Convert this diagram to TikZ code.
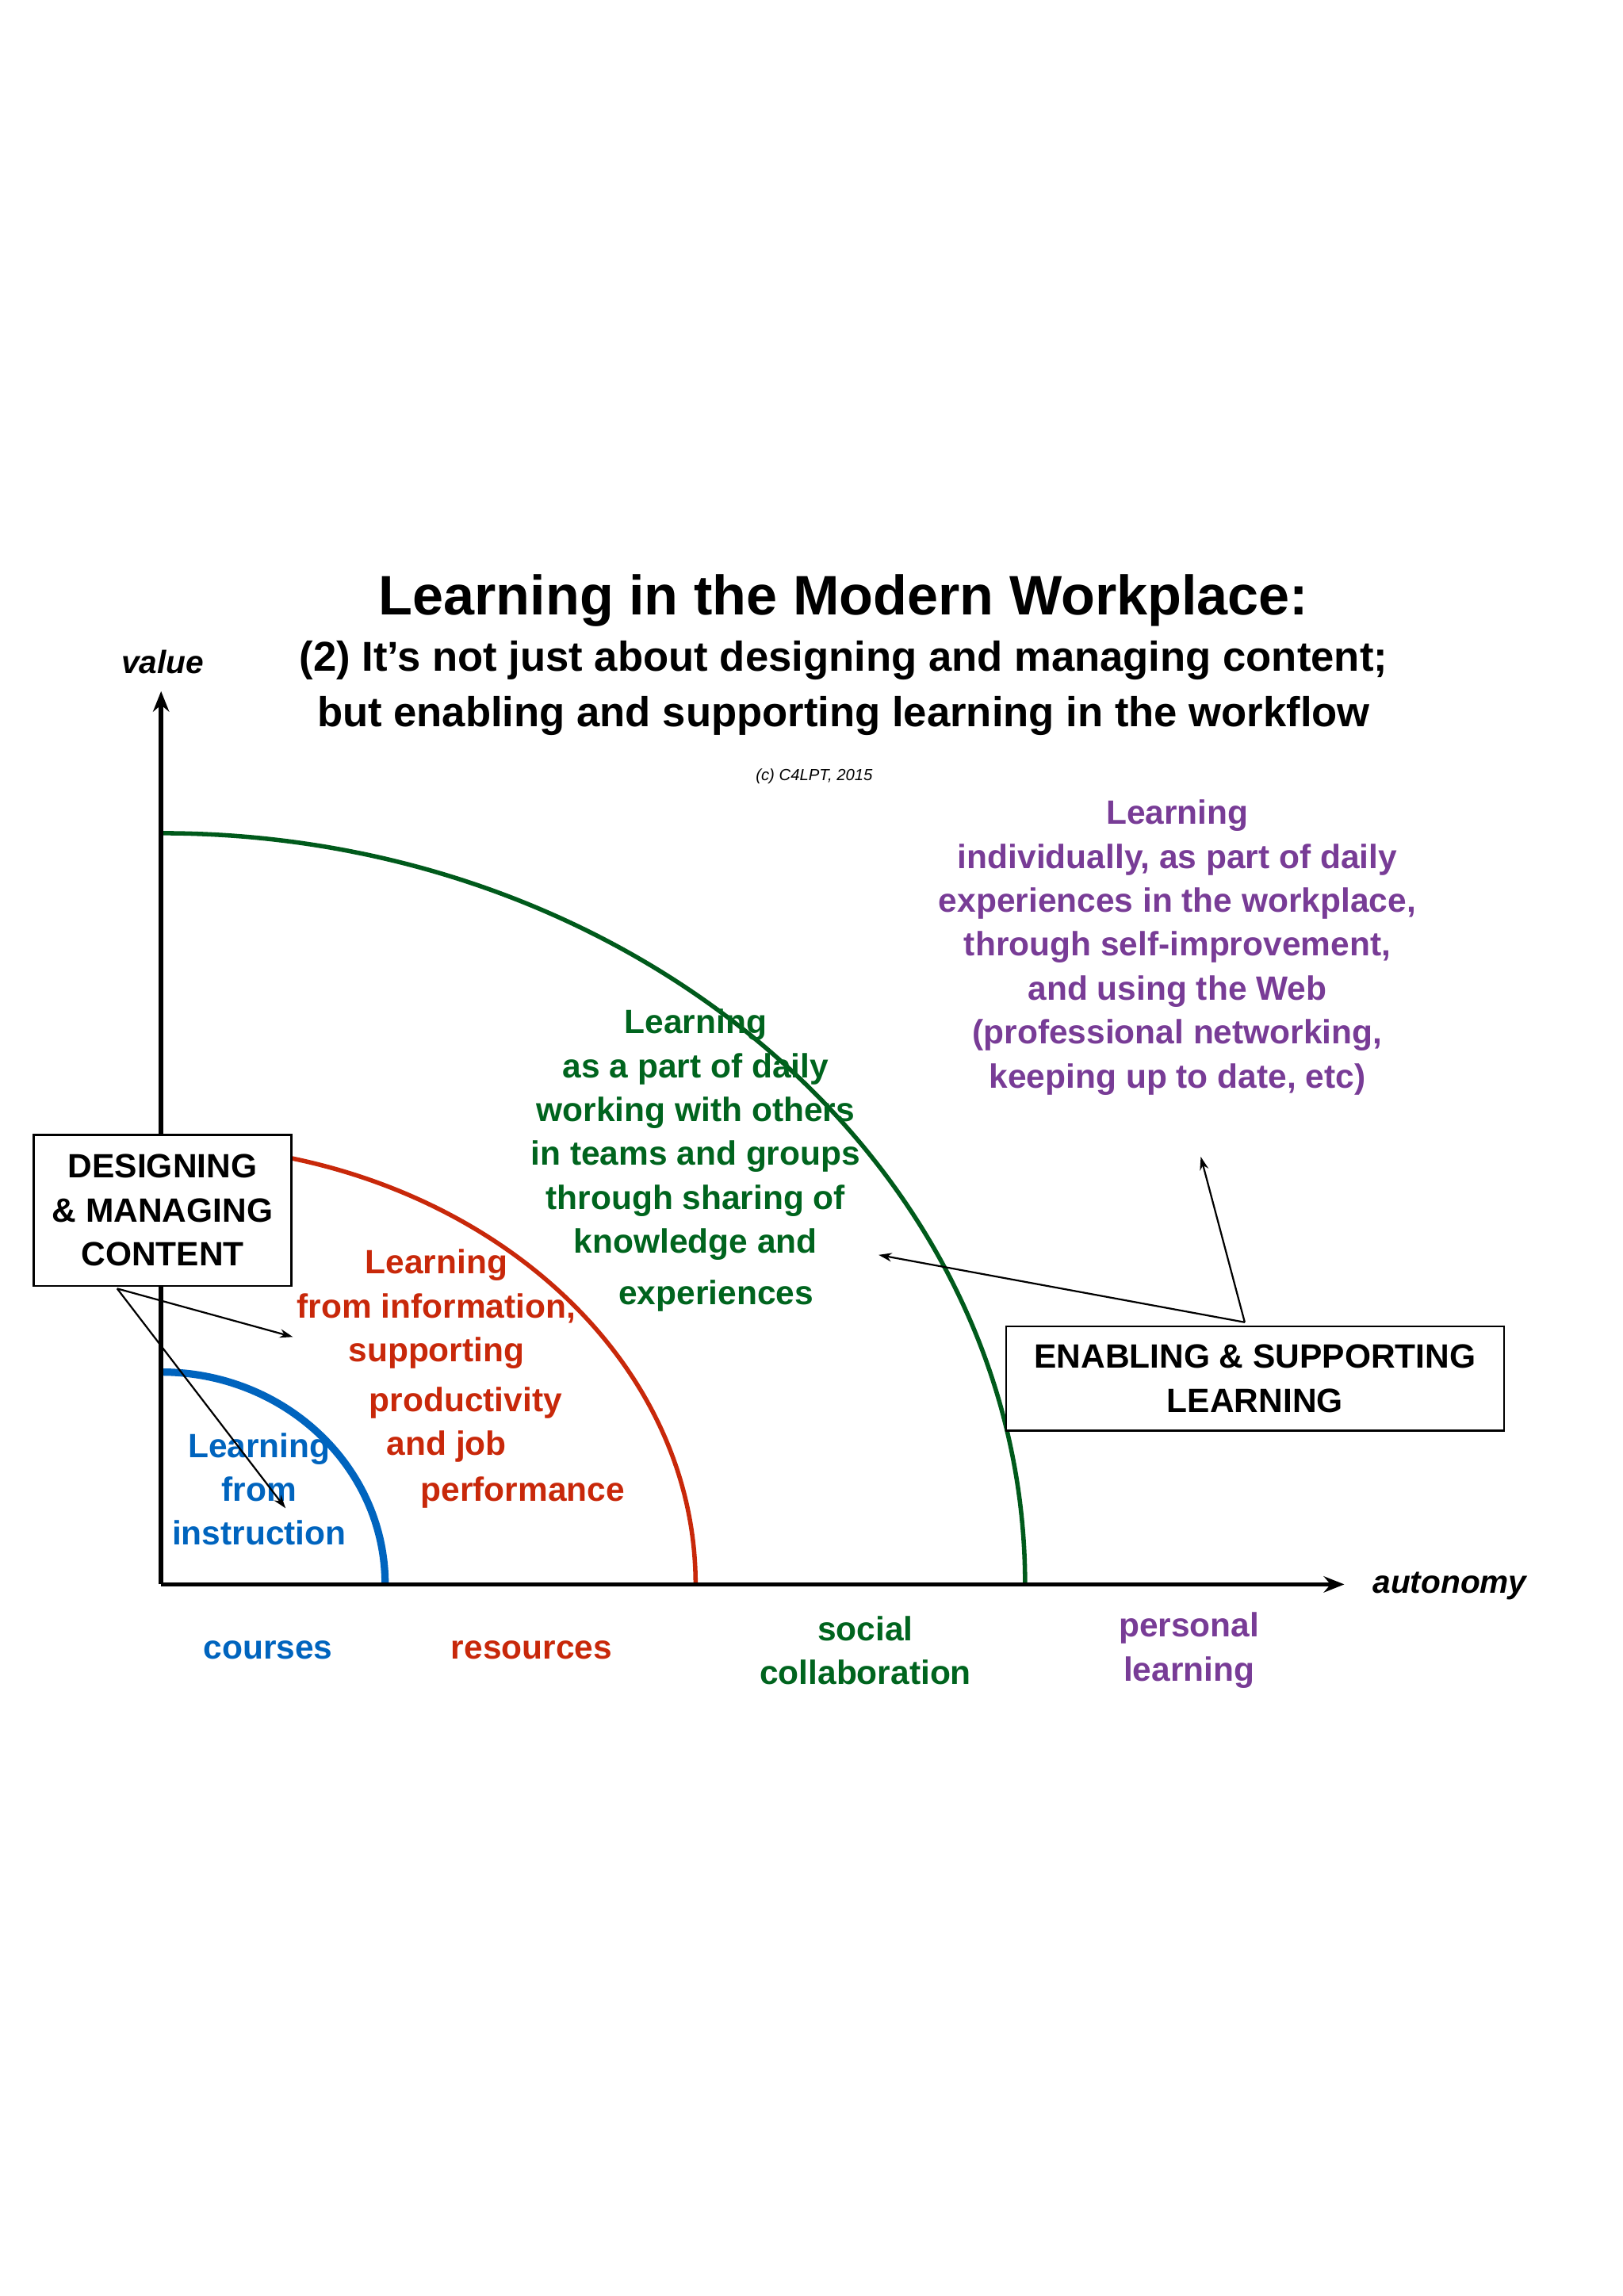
\documentclass[tikz,border=0pt]{standalone}
\usepackage{fontspec}
\setmainfont{Liberation Sans}
\usetikzlibrary{arrows.meta}
\definecolor{cblue}{RGB}{0,100,190}
\definecolor{cred}{RGB}{200,40,10}
\definecolor{cgreen}{RGB}{0,100,30}
\definecolor{cpurple}{RGB}{120,60,150}
\begin{document}
\begin{tikzpicture}[x=1pt,y=-1pt,
  lbl/.style={font=\fontsize{23}{30}\selectfont\bfseries,align=center,inner sep=0pt},
  boxn/.style={draw,line width=1.2pt,fill=white,font=\fontsize{23}{30}\selectfont\bfseries,align=center,inner sep=0pt},
  arr/.style={-{Stealth[length=9pt,width=6pt]},line width=1.2pt}]
\useasboundingbox (0,0) rectangle (1108,1568);
\node[font=\fontsize{38}{44}\selectfont\bfseries] (t1) at (576,410) {Learning in the Modern Workplace:};
\node[font=\fontsize{28.5}{37.5}\selectfont\bfseries,align=center] (t2) at (576,470) {(2) It’s not just about designing and managing content;\\but enabling and supporting learning in the workflow};
\node[font=\fontsize{11}{13}\selectfont\itshape] (cp) at (556,530) {(c) C4LPT, 2015};
\node[font=\fontsize{22}{26}\selectfont\bfseries\itshape] (val) at (111,452) {value};
\node[font=\fontsize{22}{26}\selectfont\bfseries\itshape] (aut) at (990,1083) {autonomy};
\coordinate (O) at (110,1082);
\coordinate (Y) at (110,472);
\coordinate (X) at (918,1082);
\draw[line width=3pt,color=cgreen!90!black] (700,1082) arc[start angle=0,end angle=-90,x radius=590,y radius=513];
\draw[line width=3pt,color=cred] (475,1082) arc[start angle=0,end angle=-90,x radius=365,y radius=300];
\draw[line width=5pt,color=cblue] (263,1082) arc[start angle=0,end angle=-90,x radius=153,y radius=145];
\draw[line width=3pt,-{Stealth[length=14pt,width=11pt]}] (O) -- (Y);
\draw[line width=3pt,-{Stealth[length=14pt,width=11pt]}] (O) -- (X);
\node[boxn,minimum width=176pt,minimum height=103pt] (dm) at (111,826.5) {DESIGNING\\\& MANAGING\\CONTENT};
\node[boxn,minimum width=340pt,minimum height=71pt] (es) at (857,941.5) {ENABLING \& SUPPORTING\\LEARNING};
\begin{scope}[lbl,color=cblue]
\node[lbl,text=cblue] (b1) at (177,1017) {Learning\\from\\instruction};
\end{scope}
\node[lbl,text=cred,anchor=north,align=center] (r1) at (298,853) {Learning\\from information,\\supporting};
\node[lbl,text=cred] (r4) at (318,958) {productivity};
\node[lbl,text=cred] (r5) at (305,988) {and job};
\node[lbl,text=cred] (r6) at (357,1019) {performance};
\node[lbl,text=cgreen,anchor=north] (g1) at (475,689) {Learning\\as a part of daily\\working with others\\in teams and groups\\through sharing of\\knowledge and};
\node[lbl,text=cgreen] (g7) at (489,885) {experiences};
\node[lbl,text=cpurple,anchor=north] (p1) at (804,546) {Learning\\individually, as part of daily\\experiences in the workplace,\\through self-improvement,\\and using the Web\\(professional networking,\\keeping up to date, etc)};
\node[lbl,text=cblue] (l1) at (183,1127) {courses};
\node[lbl,text=cred] (l2) at (363,1127) {resources};
\node[lbl,text=cgreen] (l3) at (591,1127) {social\\collaboration};
\node[lbl,text=cpurple] (l4) at (812,1127) {personal\\learning};
\coordinate (ds) at (80,880);
\coordinate (de1) at (200,913);
\coordinate (de2) at (195,1030);
\coordinate (es0) at (850,903);
\coordinate (ee1) at (600,857);
\coordinate (ee2) at (820,790);
\draw[arr] (ds) -- (de1);
\draw[arr] (ds) -- (de2);
\draw[arr] (es0) -- (ee1);
\draw[arr] (es0) -- (ee2);
\end{tikzpicture}
\end{document}
